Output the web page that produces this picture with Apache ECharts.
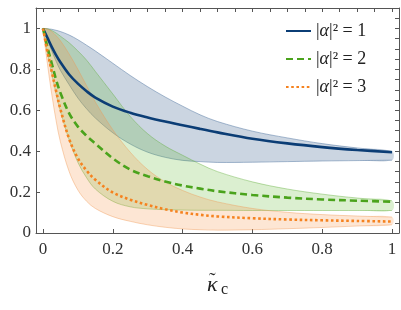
<!DOCTYPE html>
<html><head><meta charset="utf-8">
<script src="https://cdn.jsdelivr.net/npm/echarts@6/dist/echarts.min.js"></script>
<style>html,body{margin:0;padding:0;background:#fff}#c{width:401px;height:310px}</style>
</head><body><div id="c"></div>
<script>
const xs = [0, 0.0125, 0.025, 0.0375, 0.05, 0.075, 0.1, 0.125, 0.15, 0.2, 0.25, 0.3, 0.35, 0.4, 0.45, 0.5, 0.6, 0.7, 0.8, 0.9, 1.0];

const blueLine  = [1, 0.955, 0.91, 0.87, 0.835, 0.775, 0.73, 0.693, 0.662, 0.618, 0.588, 0.565, 0.545, 0.527, 0.509, 0.492, 0.461, 0.438, 0.42, 0.406, 0.395];
const blueUpper = [1, 0.999, 0.996, 0.991, 0.985, 0.968, 0.945, 0.918, 0.89, 0.83, 0.77, 0.715, 0.665, 0.62, 0.578, 0.545, 0.498, 0.465, 0.437, 0.416, 0.40];
const blueLower = [1, 0.945, 0.89, 0.84, 0.795, 0.725, 0.66, 0.607, 0.562, 0.49, 0.435, 0.395, 0.37, 0.355, 0.349, 0.345, 0.346, 0.349, 0.352, 0.354, 0.356];

const greenLine  = [1, 0.91, 0.83, 0.75, 0.685, 0.585, 0.52, 0.475, 0.437, 0.365, 0.31, 0.277, 0.252, 0.232, 0.217, 0.204, 0.186, 0.173, 0.164, 0.158, 0.153];
const greenUpper = [1, 0.998, 0.99, 0.978, 0.962, 0.93, 0.89, 0.845, 0.79, 0.68, 0.57, 0.485, 0.425, 0.38, 0.337, 0.30, 0.25, 0.215, 0.19, 0.171, 0.158];
const greenLower = [1, 0.88, 0.78, 0.68, 0.595, 0.455, 0.345, 0.27, 0.215, 0.155, 0.128, 0.118, 0.114, 0.112, 0.111, 0.111, 0.11, 0.11, 0.11, 0.11, 0.11];

const orangeLine  = [1, 0.89, 0.79, 0.695, 0.605, 0.46, 0.365, 0.305, 0.26, 0.198, 0.163, 0.137, 0.116, 0.1, 0.089, 0.081, 0.072, 0.066, 0.062, 0.059, 0.056];
const orangeUpper = [1, 0.997, 0.985, 0.965, 0.94, 0.875, 0.8, 0.72, 0.64, 0.505, 0.395, 0.31, 0.25, 0.208, 0.176, 0.152, 0.12, 0.101, 0.09, 0.083, 0.078];
const orangeLower = [1, 0.83, 0.68, 0.55, 0.445, 0.3, 0.21, 0.155, 0.12, 0.08, 0.057, 0.04, 0.028, 0.02, 0.016, 0.014, 0.016, 0.021, 0.027, 0.034, 0.04];

const names = ['|α|² = 1', '|α|² = 2', '|α|² = 3'];
const xTicks = [0, 0.2, 0.4, 0.6, 0.8, 1];
const yTicks = [0, 0.2, 0.4, 0.6, 0.8, 1];
const xMinor = [0,0.05,0.1,0.15,0.2,0.25,0.3,0.35,0.4,0.45,0.5,0.55,0.6,0.65,0.7,0.75,0.8,0.85,0.9,0.95,1];
const yMinor = [0,0.05,0.1,0.15,0.2,0.25,0.3,0.35,0.4,0.45,0.5,0.55,0.6,0.65,0.7,0.75,0.8,0.85,0.9,0.95,1,1.05];

const pairs = arr => xs.map((x, i) => [x, arr[i]]);
const SM = 0.35;
const FONT = '"Liberation Serif", "DejaVu Serif", serif';
const frame = '#555';

function band(up, lo, fill, edge) {
  return {
    type: 'custom', silent: true, z: 1, clip: true,
    data: xs.map((x, i) => [x, lo[i], up[i]]),
    renderItem: function (params, api) {
      if (params.dataIndex !== 0) return null;
      const top = xs.map((x, i) => api.coord([x, up[i]]));
      const bot = xs.map((x, i) => api.coord([x, lo[i]]));
      const poly = top.concat(bot.slice(1).reverse());
      return {
        type: 'group',
        children: [
          { type: 'polygon', shape: { points: poly, smooth: SM }, style: { fill: fill, stroke: null } },
          { type: 'polyline', shape: { points: top, smooth: SM }, style: { fill: null, stroke: edge, lineWidth: 0.8 } },
          { type: 'polyline', shape: { points: bot, smooth: SM }, style: { fill: null, stroke: edge, lineWidth: 0.8 } }
        ]
      };
    }
  };
}

const series = [
  band(blueUpper, blueLower, 'rgba(16,64,120,0.22)', 'rgba(60,100,150,0.55)'),
  band(greenUpper, greenLower, 'rgba(90,180,40,0.22)', 'rgba(90,170,50,0.5)'),
  band(orangeUpper, orangeLower, 'rgba(248,140,60,0.22)', 'rgba(240,150,80,0.5)'),
  { type: 'line', name: names[0], data: pairs(blueLine), smooth: SM, symbol: 'none',
    lineStyle: { color: '#0b3d75', width: 2.6 }, itemStyle: { color: '#0b3d75' }, z: 5 },
  { type: 'line', name: names[1], data: pairs(greenLine), smooth: SM, symbol: 'none',
    lineStyle: { color: '#4aa31c', width: 2.6, type: [7, 4], cap: 'butt' }, itemStyle: { color: '#4aa31c' }, z: 5 },
  { type: 'line', name: names[2], data: pairs(orangeLine), smooth: SM, symbol: 'none',
    lineStyle: { color: '#f5821f', width: 2.6, type: [2.6, 2.6], cap: 'butt' }, itemStyle: { color: '#f5821f' }, z: 5 }
];

const chart = echarts.init(document.getElementById('c'), null, { renderer: 'canvas' });
chart.setOption({
  animation: false,
  backgroundColor: '#fff',
  grid: { left: 36, right: 2, top: 8, bottom: 77 },
  legend: {
    data: names, orient: 'vertical', left: 280, top: 17, itemWidth: 25, itemHeight: 14, itemGap: 10, itemStyle: { opacity: 0 },
    formatter: n => '|{i|α}|² = ' + n.slice(-1),
    textStyle: { fontFamily: FONT, fontSize: 18, color: '#222', rich: { i: { fontFamily: FONT, fontStyle: 'italic', fontSize: 18, color: '#222' } } }
  },
  graphic: [
    { type: 'text', left: 209, top: 272, style: { text: '˜', font: '20px ' + FONT, fill: '#222' } },
    { type: 'text', left: 207, top: 274, style: { text: 'κ', font: 'italic 22px ' + FONT, fill: '#222' } },
    { type: 'text', left: 221, top: 282, style: { text: 'c', font: '16px ' + FONT, fill: '#222' } }
  ],
  xAxis: [
    { type: 'value', min: -0.02, max: 1.02, position: 'bottom',
      axisLine: { show: true, onZero: false, lineStyle: { color: frame, width: 1 } },
      axisTick: { show: true, inside: true, length: 4, customValues: xTicks, lineStyle: { color: frame } },
      axisLabel: { customValues: xTicks, fontFamily: FONT, fontSize: 17, color: '#333', margin: 8 },
      splitLine: { show: false } },
    { type: 'value', min: -0.02, max: 1.02, position: 'top',
      axisLine: { show: true, onZero: false, lineStyle: { color: frame, width: 1 } },
      axisTick: { show: true, inside: true, length: 4, customValues: xMinor, lineStyle: { color: frame } },
      axisLabel: { show: false }, splitLine: { show: false } }
  ],
  yAxis: [
    { type: 'value', min: 0, max: 1.1, position: 'left',
      axisLine: { show: true, onZero: false, lineStyle: { color: frame, width: 1 } },
      axisTick: { show: true, inside: true, length: 4, customValues: yTicks, lineStyle: { color: frame } },
      axisLabel: { customValues: yTicks, fontFamily: FONT, fontSize: 17, color: '#333', margin: 5 },
      splitLine: { show: false } },
    { type: 'value', min: 0, max: 1.1, position: 'right',
      axisLine: { show: true, onZero: false, lineStyle: { color: frame, width: 1 } },
      axisTick: { show: true, inside: true, length: 4, customValues: yMinor, lineStyle: { color: frame } },
      axisLabel: { show: false }, splitLine: { show: false } }
  ],
  series: series
});
</script>
</body></html>
